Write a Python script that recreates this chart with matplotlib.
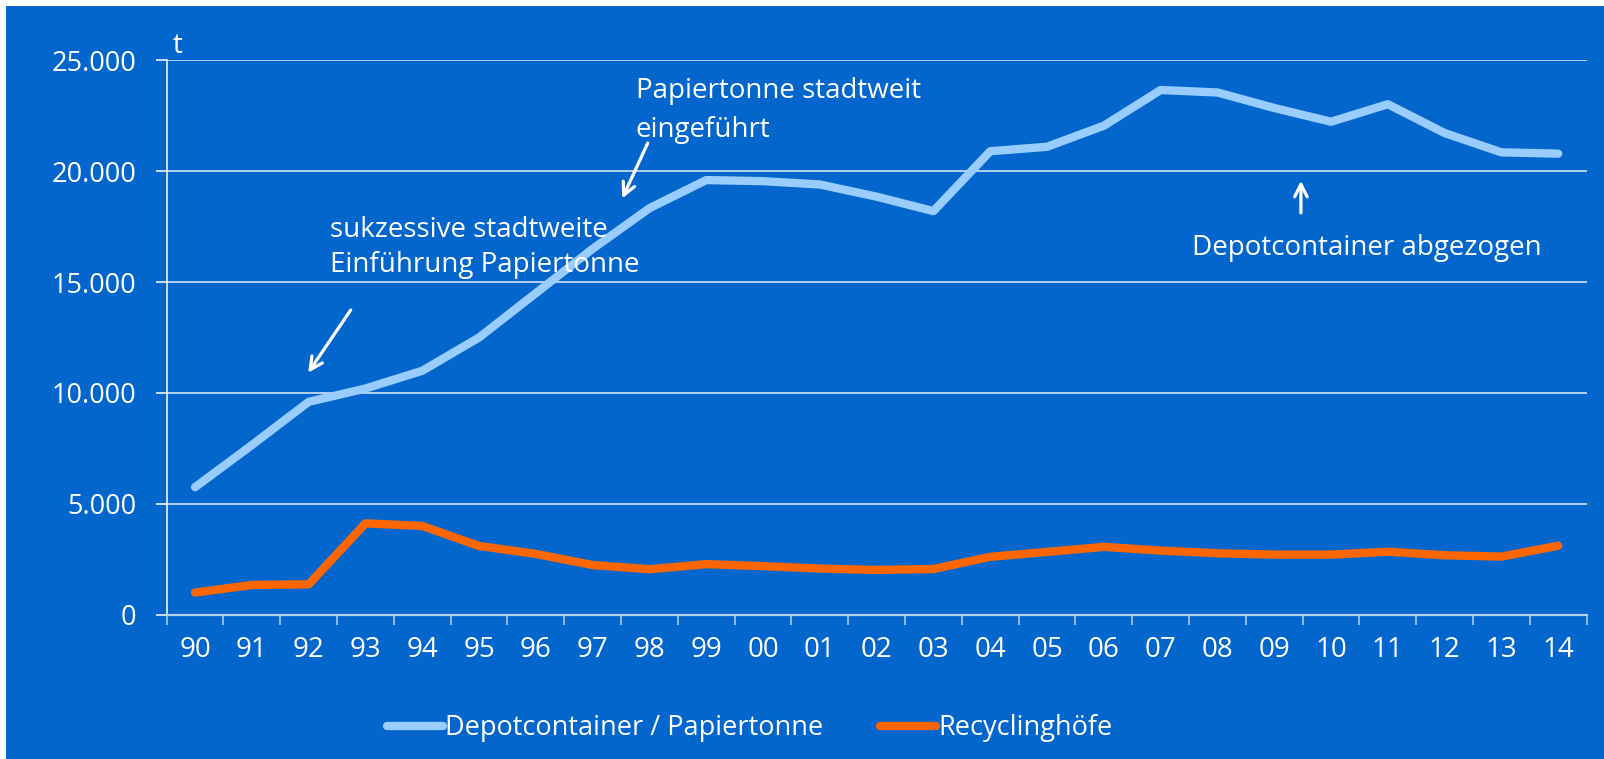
import numpy as np
import matplotlib
matplotlib.use("Agg")
import matplotlib.pyplot as plt
from matplotlib.patches import Rectangle
from matplotlib.ticker import FuncFormatter

# ---------------------------------------------------------------------
#  Data (t per year)
# ---------------------------------------------------------------------
years = ["90", "91", "92", "93", "94", "95", "96", "97", "98", "99",
         "00", "01", "02", "03", "04", "05", "06", "07", "08", "09",
         "10", "11", "12", "13", "14"]
depot_papiertonne = [5750, 7650, 9600, 10200, 11000, 12500, 14500, 16500,
                     18330, 19600, 19550, 19400, 18850, 18200, 20900,
                     21100, 22050, 23660, 23550, 22850, 22230, 23020,
                     21720, 20850, 20790]
recyclinghoefe = [1000, 1340, 1370, 4120, 4000, 3100, 2740, 2240, 2050,
                  2280, 2190, 2080, 2020, 2060, 2610, 2830, 3060, 2890,
                  2770, 2710, 2710, 2840, 2680, 2620, 3110]
y_ticks = [0, 5000, 10000, 15000, 20000, 25000]

BG = "#0366CC"
LIGHT = "#99CCFF"
ORANGE = "#FF6600"
GRID = "#E4EEF9"
TXT_FONT = ["Open Sans", "DejaVu Sans"]
NUM_FONT = ["Open Sans", "DejaVu Sans"]

fig = plt.figure(figsize=(16.04, 7.59), dpi=100, facecolor="white")
fig.add_artist(Rectangle((6 / 1604, 0), 1, 753 / 759, transform=fig.transFigure,
                         facecolor=BG, edgecolor="none", zorder=-1))

ax = fig.add_axes([0.10393, 0.19012, 0.88522, 0.73043])
ax.patch.set_visible(False)

x = np.arange(len(years))
ax.plot(x, depot_papiertonne, color=LIGHT, lw=6, solid_capstyle="round",
        solid_joinstyle="round", label="Depotcontainer / Papiertonne", zorder=3)
ax.plot(x, recyclinghoefe, color=ORANGE, lw=6, solid_capstyle="round",
        solid_joinstyle="round", label="Recyclinghöfe", zorder=3)

ax.set_xlim(-0.5, len(years) - 0.5)
ax.set_ylim(0, 25000)

# y axis
ax.set_yticks(y_ticks)
ax.yaxis.set_major_formatter(FuncFormatter(lambda v, p: f"{int(v):,}".replace(",", ".")))
ax.tick_params(axis="y", colors="white", length=7.7, width=1.1, pad=14,
               labelsize=19.5)
for lab in ax.get_yticklabels():
    lab.set_fontfamily(NUM_FONT)
ax.grid(axis="y", color=GRID, lw=1.1, zorder=1)

# x axis: labels at centres, ticks at category boundaries
ax.set_xticks(x)
ax.set_xticklabels(years, fontfamily=NUM_FONT, fontsize=20)
ax.set_xticks(np.arange(-0.5, len(years)), minor=True)
ax.tick_params(axis="x", which="major", length=0, pad=15, labelcolor="white")
ax.tick_params(axis="x", which="minor", length=7.5, width=1.1, color="#B3D3F2")

for s in ["top", "right"]:
    ax.spines[s].set_visible(False)
ax.spines["left"].set_color("white")
ax.spines["left"].set_linewidth(1.1)
ax.spines["bottom"].set_color("#B3D3F2")
ax.spines["bottom"].set_linewidth(1.6)

# annotations
kw = dict(color="white", fontsize=20, fontfamily=TXT_FONT, va="baseline")
ax.text(-0.39, 25340, "t", **kw)
ax.text(7.76, 23280, "Papiertonne stadtweit", **kw)
ax.text(7.76, 21550, "eingeführt", **kw)
ax.text(2.375, 17040, "sukzessive stadtweite", **kw)
ax.text(2.375, 15460, "Einführung Papiertonne", **kw)
ax.text(17.55, 16220, "Depotcontainer abgezogen", **kw)

arrow = dict(arrowstyle="->,head_length=0.9,head_width=0.45", color="white", lw=2.3,
             shrinkA=0, shrinkB=0)
ax.annotate("", xy=(1.99, 10910), xytext=(2.74, 13740), arrowprops=arrow)
ax.annotate("", xy=(7.52, 18770), xytext=(7.97, 21270), arrowprops=arrow)
ax.annotate("", xy=(19.47, 19570), xytext=(19.47, 18120), arrowprops=arrow)

leg = fig.legend(loc="center left", bbox_to_anchor=(387 / 1604, 31 / 759), ncol=2,
                 frameon=False, handlelength=2.05, handletextpad=0.1,
                 columnspacing=2.1, borderpad=0, borderaxespad=0,
                 prop={"family": TXT_FONT, "size": 19.5})
for t in leg.get_texts():
    t.set_color("white")

fig.savefig("out.png", dpi=100, facecolor="white")
